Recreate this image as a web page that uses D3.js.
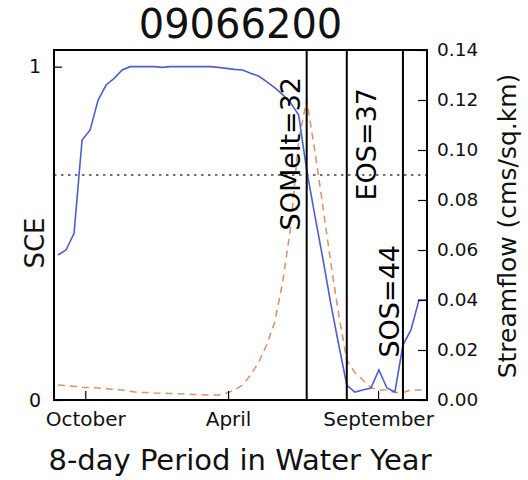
<!DOCTYPE html>
<html>
<head>
<meta charset="utf-8">
<script src="https://cdn.jsdelivr.net/npm/d3@7"></script>
<style>
  html, body { margin: 0; padding: 0; background: #fff; }
  svg { display: block; font-family: "DejaVu Sans", sans-serif; }
</style>
</head>
<body>
<svg id="chart" width="528" height="480"></svg>
<script>
// ---- data ----
const title = "09066200";
const periods = d3.range(1, 48);
const sce = [0.435, 0.45, 0.50, 0.78, 0.81, 0.90, 0.945, 0.965, 0.99, 1.0,
             1.0, 1.0, 1.0, 0.998, 1.0, 1.0, 1.0, 1.0, 1.0, 1.0,
             0.998, 0.995, 0.992, 0.99, 0.98, 0.972, 0.955, 0.937, 0.916, 0.892,
             0.855, 0.69, 0.556, 0.426, 0.29, 0.165, 0.045, 0.024, 0.03, 0.036,
             0.09, 0.036, 0.024, 0.165, 0.21, 0.30, 0.30];
const flow = [0.006, 0.0058, 0.0055, 0.005, 0.005, 0.0048, 0.0045, 0.0042, 0.004, 0.0035,
              0.003, 0.003, 0.0028, 0.0027, 0.0026, 0.0025, 0.0024, 0.0022, 0.0021, 0.002,
              0.002, 0.0028, 0.004, 0.006, 0.010, 0.015, 0.022, 0.031, 0.047, 0.069,
              0.104, 0.12, 0.10, 0.078, 0.055, 0.034, 0.016, 0.011, 0.008, 0.005,
              0.004, 0.004, 0.003, 0.003, 0.004, 0.004, 0.004];
const sceThreshold = 0.675;
const events = [
  {label: "SOMelt=32", period: 32},
  {label: "EOS=37", period: 37},
  {label: "SOS=44", period: 44}
];
const xTickPos = [4.4, 22.2, 40.9];
const xTickLabels = ["October", "April", "September"];
const sceTicks = [0, 1];
const flowTicks = [0, 0.02, 0.04, 0.06, 0.08, 0.10, 0.12, 0.14];

// ---- layout ----
const L = 54, R = 427, T = 50, B = 400;
const svg = d3.select("#chart");

const x = d3.scaleLinear().domain([0.5, 47]).range([L, R]);
const ySce = d3.scaleLinear().domain([0, 1.05]).range([B, T]);
const yFlow = d3.scaleLinear().domain([0, 0.14]).range([B, T]);

const clip = svg.append("clipPath").attr("id", "clip")
  .append("rect").attr("x", L).attr("y", T).attr("width", R - L).attr("height", B - T);

const plot = svg.append("g").attr("clip-path", "url(#clip)");

// dotted threshold
plot.append("line")
  .attr("x1", L).attr("x2", R)
  .attr("y1", ySce(sceThreshold)).attr("y2", ySce(sceThreshold))
  .attr("stroke", "#444").attr("stroke-width", 1.5)
  .attr("stroke-dasharray", "2.5,4.5");

// streamflow dashed
plot.append("path")
  .datum(periods.map((p, i) => [p, flow[i]]))
  .attr("fill", "none")
  .attr("stroke", "#dc9472")
  .attr("stroke-width", 1.6)
  .attr("stroke-dasharray", "7,5")
  .attr("d", d3.line().x(d => x(d[0])).y(d => yFlow(d[1])));

// SCE line
plot.append("path")
  .datum(periods.map((p, i) => [p, sce[i]]))
  .attr("fill", "none")
  .attr("stroke", "#4f5fc6")
  .attr("stroke-width", 1.6)
  .attr("d", d3.line().x(d => x(d[0])).y(d => ySce(d[1])));

// event lines
plot.selectAll("line.ev").data(events).join("line")
  .attr("class", "ev")
  .attr("x1", d => x(d.period)).attr("x2", d => x(d.period))
  .attr("y1", T).attr("y2", B)
  .attr("stroke", "#000").attr("stroke-width", 2);

// event labels
const evLab = [
  {dx: -7, yEnd: 77},
  {dx: 29, yEnd: 88},
  {dx: -4, yEnd: 245}
];
svg.selectAll("text.ev").data(events).join("text")
  .attr("class", "ev")
  .attr("transform", (d, i) => `translate(${x(d.period) + evLab[i].dx},${evLab[i].yEnd}) rotate(-90)`)
  .attr("text-anchor", "end")
  .attr("font-size", 27)
  .attr("fill", "#000")
  .text(d => d.label);

// axes
const axL = svg.append("g").attr("transform", `translate(${L},0)`)
  .call(d3.axisLeft(ySce).tickValues(sceTicks).tickFormat(d3.format("d"))
        .tickSizeInner(-8).tickSizeOuter(0).tickPadding(13));
const axR = svg.append("g").attr("transform", `translate(${R},0)`)
  .call(d3.axisRight(yFlow).tickValues(flowTicks).tickFormat(d3.format(".2f"))
        .tickSizeInner(-9).tickSizeOuter(0).tickPadding(10));
const axB = svg.append("g").attr("transform", `translate(0,${B})`)
  .call(d3.axisBottom(x).tickValues(xTickPos).tickFormat((d, i) => xTickLabels[i])
        .tickSizeInner(-9).tickSizeOuter(0).tickPadding(12));
[axL, axR, axB].forEach(a => {
  a.select(".domain").remove();
  a.selectAll(".tick line").attr("stroke", "#000").attr("stroke-width", 1.2);
  a.selectAll(".tick text").attr("fill", "#111").attr("font-family", "DejaVu Sans");
});
axL.selectAll(".tick text").attr("font-size", 19);
axR.selectAll(".tick text").attr("font-size", 18.5);
axB.selectAll(".tick text").attr("font-size", 20);

// frame
svg.append("rect")
  .attr("x", L).attr("y", T).attr("width", R - L).attr("height", B - T)
  .attr("fill", "none").attr("stroke", "#000").attr("stroke-width", 2);

// title & labels
svg.append("text").attr("x", (L + R) / 2).attr("y", 38)
  .attr("text-anchor", "middle").attr("font-size", 40).attr("fill", "#111")
  .text(title);
svg.append("text").attr("x", 240).attr("y", 470)
  .attr("text-anchor", "middle").attr("font-size", 29).attr("fill", "#111")
  .text("8-day Period in Water Year");
svg.append("text").attr("transform", "translate(44,243) rotate(-90)")
  .attr("text-anchor", "middle").attr("font-size", 26).attr("fill", "#111")
  .text("SCE");
svg.append("text").attr("transform", "translate(516,226) rotate(-90)")
  .attr("text-anchor", "middle").attr("font-size", 25).attr("fill", "#111")
  .text("Streamflow (cms/sq.km)");
</script>
</body>
</html>
